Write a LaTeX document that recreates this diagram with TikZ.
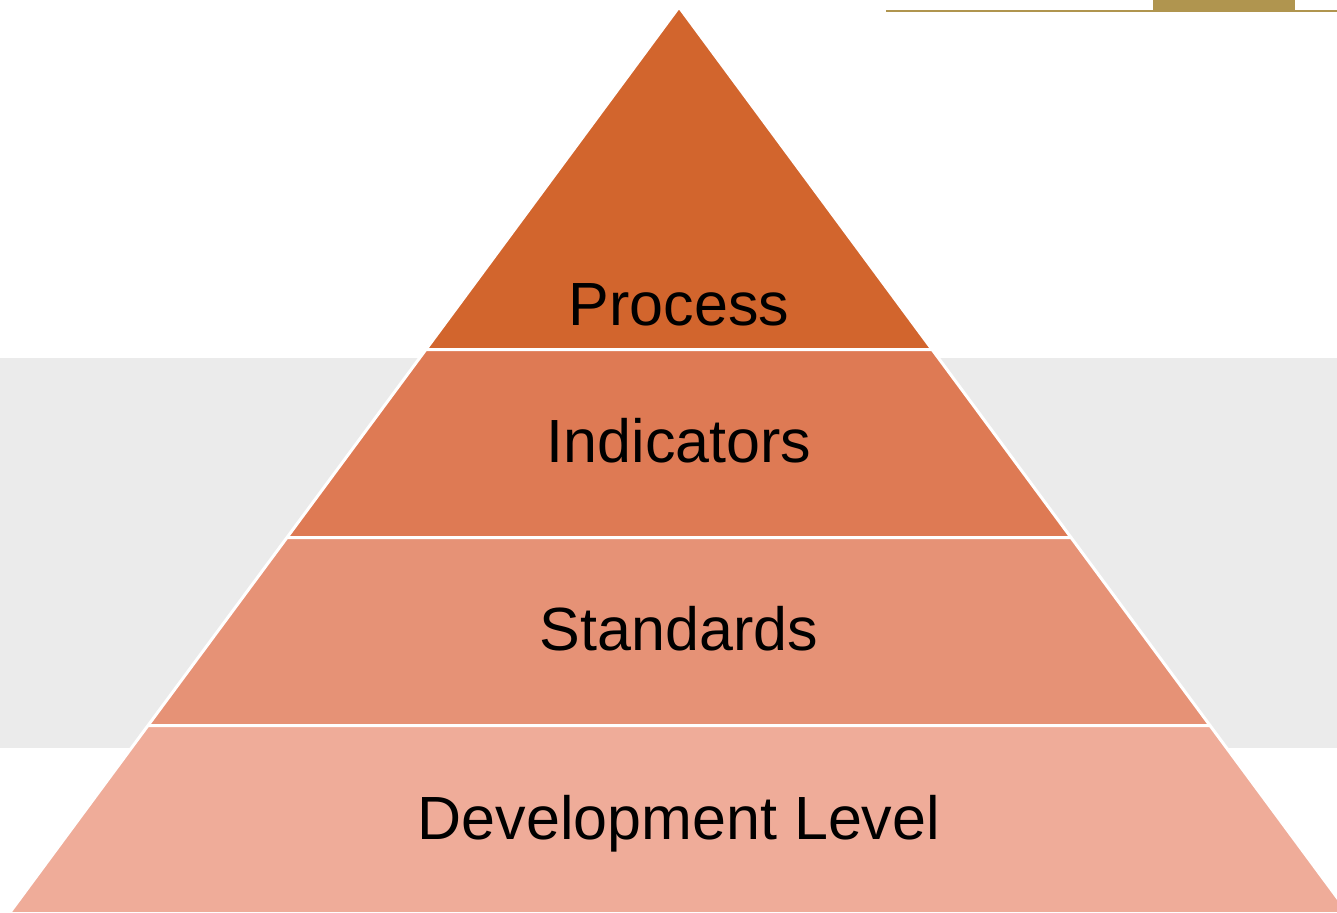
\documentclass[tikz,border=0pt]{standalone}
\usepackage{fontspec}
\setmainfont{Liberation Sans}
\usepackage{tikz}
\usetikzlibrary{positioning}
\definecolor{layerA}{HTML}{D2652D}
\definecolor{layerB}{HTML}{DE7A54}
\definecolor{layerC}{HTML}{E69276}
\definecolor{layerD}{HTML}{EFAC99}
\definecolor{band}{HTML}{EBEBEB}
\definecolor{gold}{HTML}{B0954F}
\tikzset{
	layer/.style={draw=white, line width=3pt, line join=round},
	label/.style={anchor=base, font=\fontsize{61}{70}\selectfont, text=black}
}

\begin{document}
\begin{tikzpicture}[x=1pt, y=-1pt]
\useasboundingbox (0,0) rectangle (1337,912);
\clip (0,0) rectangle (1337,912);
\fill[band] (0,358) rectangle (1337,748);
\draw[gold, line width=2.5pt] (886,11) -- (1337,11);
\fill[gold] (1153,0) rectangle (1295,11);
\filldraw[layer, fill=layerA] (679,7) -- (932.1,349.5) -- (425.9,349.5) -- cycle;
\filldraw[layer, fill=layerB] (425.9,349.5) -- (932.1,349.5) -- (1071,537.5) -- (287,537.5) -- cycle;
\filldraw[layer, fill=layerC] (287,537.5) -- (1071,537.5) -- (1210,725.5) -- (148,725.5) -- cycle;
\filldraw[layer, fill=layerD] (148,725.5) -- (1210,725.5) -- (1348.9,913.5) -- (9.1,913.5) -- cycle;
\node (process) [label] at (679,325) {Process};
\node (indicators) [label] at (679,462) {Indicators};
\node (standards) [label] at (679,650) {Standards};
\node (devlevel) [label] at (679,839) {Development Level};
\end{tikzpicture}
\end{document}
